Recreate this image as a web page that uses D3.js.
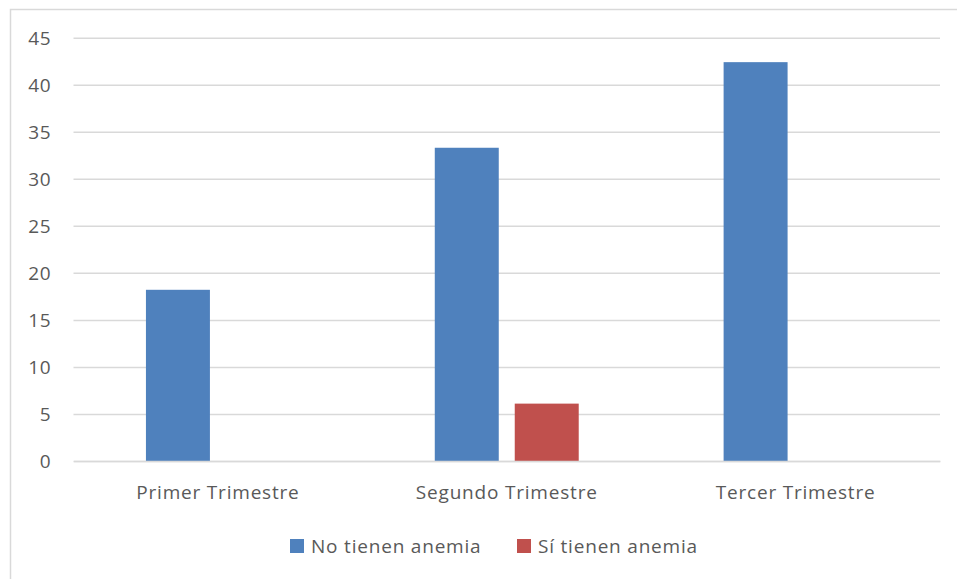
<!DOCTYPE html>
<html>
<head>
<meta charset="utf-8">
<script src="https://cdn.jsdelivr.net/npm/d3@7"></script>
<style>
  html, body { margin: 0; padding: 0; background: #fff; }
  svg { display: block; }
  text { font-family: "Open Sans", sans-serif; fill: #595959; }
</style>
</head>
<body>
<svg id="chart" width="957" height="579"></svg>
<script>
const categories = ["Primer Trimestre", "Segundo Trimestre", "Tercer Trimestre"];
const seriesNames = ["No tienen anemia", "Sí tienen anemia"];
const noAnemia = [18.2, 33.3, 42.4];
const siAnemia = [0, 6.1, 0];
const yTicks = [0, 5, 10, 15, 20, 25, 30, 35, 40, 45];
const colors = ["#4F81BD", "#C0504D"];

const FONT = "'Open Sans', sans-serif";
const FS = 19;
const LS = "0.8px";
const svg = d3.select("#chart");
const W = 957, H = 579;
const plot = { left: 73.5, right: 940, top: 37.7, bottom: 461 };

// outer chart border
svg.append("rect")
  .attr("x", 10.5).attr("y", 9.5)
  .attr("width", W + 20).attr("height", H + 20)
  .attr("fill", "none").attr("stroke", "#D9D9D9").attr("stroke-width", 1.5);

const x = d3.scaleBand().domain(categories).range([plot.left, plot.right]).paddingInner(0).paddingOuter(0);
const y = d3.scaleLinear().domain([0, 45]).range([plot.bottom, plot.top]);

const barW = x.bandwidth() * 0.2215;
const barGap = barW * 0.25;
const xs = d3.scaleOrdinal().domain(seriesNames).range([-(barW + barGap / 2), barGap / 2]);

// gridlines
const yAxis = d3.axisLeft(y).tickValues(yTicks).tickSize(-(plot.right - plot.left)).tickPadding(22);
const gy = svg.append("g").attr("transform", `translate(${plot.left},0)`).call(yAxis);
gy.select(".domain").remove();
gy.selectAll(".tick line").attr("stroke", "#D9D9D9").attr("stroke-width", 1.5);
gy.selectAll(".tick text")
  .style("font-family", FONT).style("letter-spacing", LS)
  .attr("font-size", FS).attr("fill", "#595959").attr("dy", "0.36em");

// bars
const data = categories.map((c, i) => ({ cat: c, values: [noAnemia[i], siAnemia[i]] }));
const groups = svg.append("g").selectAll("g").data(data).join("g")
  .attr("transform", d => `translate(${x(d.cat) + x.bandwidth() / 2},0)`);
groups.selectAll("rect")
  .data(d => d.values.map((v, j) => ({ name: seriesNames[j], v, j })))
  .join("rect")
  .attr("x", d => xs(d.name))
  .attr("width", barW)
  .attr("y", d => y(d.v))
  .attr("height", d => y(0) - y(d.v))
  .attr("fill", d => colors[d.j]);

// x axis
const xAxis = d3.axisBottom(x).tickSize(0).tickPadding(25);
const gx = svg.append("g").attr("transform", `translate(0,${plot.bottom})`).call(xAxis);
gx.select(".domain").attr("stroke", "#D9D9D9").attr("stroke-width", 1.5);
gx.selectAll(".tick text")
  .style("font-family", FONT).style("letter-spacing", LS)
  .attr("font-size", FS).attr("fill", "#595959");

// legend
const legendItems = [
  { name: seriesNames[0], color: colors[0], x: 290 },
  { name: seriesNames[1], color: colors[1], x: 517 }
];
const lg = svg.append("g").selectAll("g").data(legendItems).join("g")
  .attr("transform", d => `translate(${d.x},539)`);
lg.append("rect").attr("width", 14).attr("height", 14).attr("fill", d => d.color);
lg.append("text").attr("x", 21).attr("y", 14).attr("font-size", FS)
  .style("letter-spacing", LS).text(d => d.name);
</script>
</body>
</html>
